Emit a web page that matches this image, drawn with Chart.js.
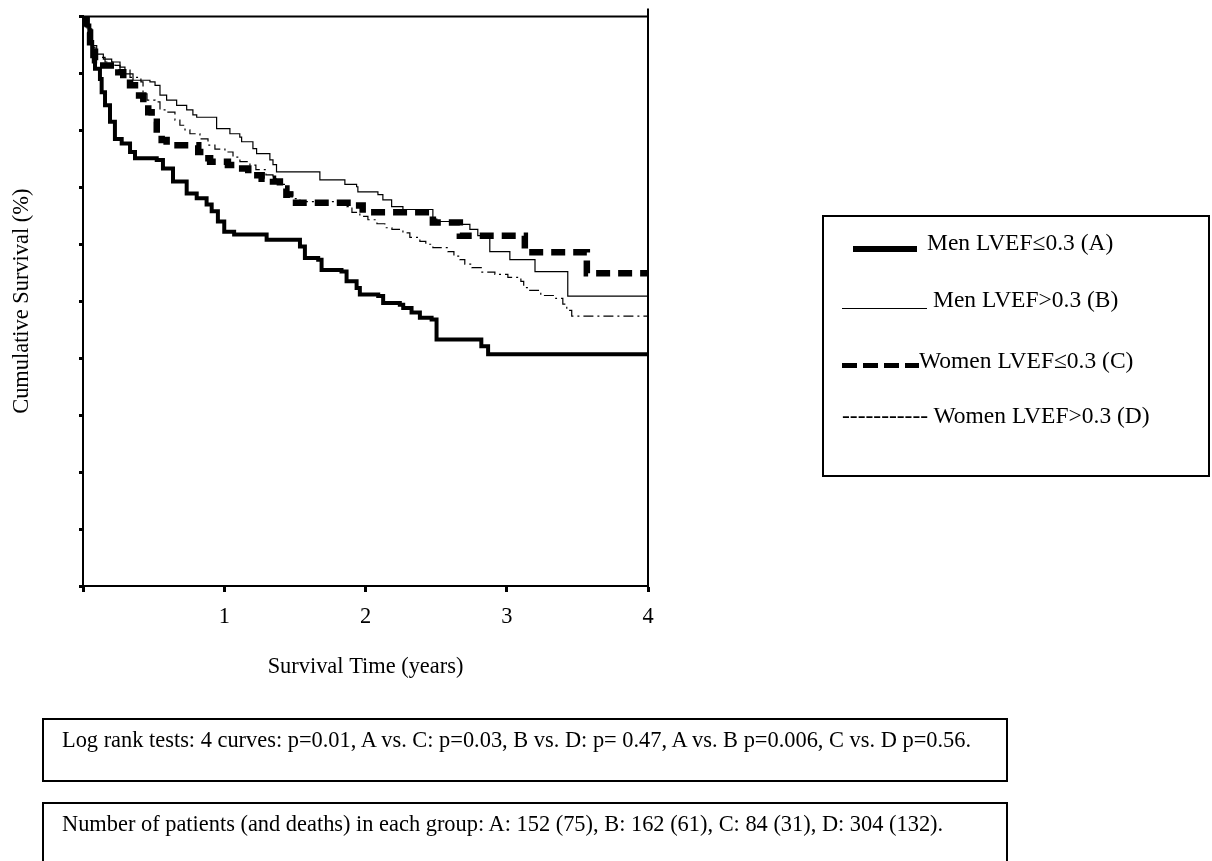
<!DOCTYPE html>
<html>
<head>
<meta charset="utf-8">
<script src="https://cdn.jsdelivr.net/npm/chart.js@4.4.0/dist/chart.umd.min.js"></script>
<style>
  html, body { margin: 0; padding: 0; background: #fff; }
  body {
    width: 1212px; height: 861px; position: relative; overflow: hidden;
    font-family: "Liberation Serif", "Times New Roman", serif; font-size: 22.4px; color: #000;
  }
  #chart { position: absolute; left: 0; top: 0; }
  .box { position: absolute; border: 2px solid #000; box-sizing: border-box; }
  .txt { position: absolute; white-space: nowrap; line-height: 26px; }
  .leg { font-size: 23.5px; }
  .swatch { position: absolute; }
</style>
</head>
<body>
<canvas id="chart" width="1212" height="861"></canvas>

<!-- legend box -->
<div class="box" style="left:822px; top:215px; width:388px; height:262px;"></div>
<div class="swatch" style="left:853px; top:246px; width:64px; height:6px; background:#000;"></div>
<div class="txt leg" style="left:927px; top:229px;">Men LVEF≤0.3 (A)</div>
<div class="swatch" style="left:842px; top:308px; width:85px; height:1px; background:#000;"></div>
<div class="txt leg" style="left:933px; top:286px;">Men LVEF&gt;0.3 (B)</div>
<div class="swatch" style="left:842px; top:363px; width:77px; height:5px;
  background:repeating-linear-gradient(to right, #000 0 15px, transparent 15px 21px);"></div>
<div class="txt leg" style="left:919px; top:347px;">Women LVEF≤0.3 (C)</div>
<div class="txt leg" style="left:842px; top:402px;">----------- Women LVEF&gt;0.3 (D)</div>

<!-- note boxes -->
<div class="box" style="left:42px; top:718px; width:966px; height:64px;"></div>
<div class="txt" style="left:62px; top:727px;">Log rank tests: 4 curves: p=0.01, A vs. C: p=0.03, B vs. D: p= 0.47, A vs. B p=0.006, C vs. D p=0.56.</div>
<div class="box" style="left:42px; top:802px; width:966px; height:80px;"></div>
<div class="txt" style="left:62px; top:811px;">Number of patients (and deaths) in each group: A: 152 (75), B: 162 (61), C: 84 (31), D: 304 (132).</div>

<script>
// survival time (years) and cumulative survival (%)

// Men LVEF<=0.3 (A)
const tA = [0, 0.012, 0.026, 0.045, 0.065, 0.085, 0.12, 0.132, 0.156, 0.191, 0.226, 0.274, 0.333, 0.368, 0.522, 0.566, 0.637, 0.734, 0.805, 0.875,
            0.911, 0.955, 1.0, 1.07, 1.30, 1.536, 1.571, 1.665, 1.689, 1.83, 1.866, 1.937, 1.96, 2.09, 2.125, 2.243, 2.267, 2.326, 2.385, 2.468,
            2.503, 2.82, 2.868, 4.0];
const sA = [100, 99.2, 98.4, 95.5, 93.0, 90.8, 89.0, 86.7, 84.4, 81.5, 78.5, 77.7, 76.2, 75.1, 74.8, 73.3, 71.0, 68.9, 68.1, 67.0,
            65.8, 64.0, 62.2, 61.7, 60.8, 59.6, 57.6, 57.3, 55.5, 55.2, 53.5, 52.3, 51.2, 50.9, 49.7, 49.4, 48.8, 48.0, 47.1, 46.8,
            43.3, 42.1, 40.7, 40.7];

// Men LVEF>0.3 (B)
const tB = [0, 0.037, 0.062, 0.097, 0.144, 0.203, 0.262, 0.297, 0.354, 0.474, 0.51, 0.545, 0.592, 0.663, 0.734, 0.778, 0.805, 0.946, 1.04, 1.11,
            1.123, 1.203, 1.229, 1.323, 1.345, 1.37, 1.677, 1.854, 1.937, 1.946, 2.088, 2.123, 2.185, 2.265, 2.477, 2.505, 2.61, 2.739, 2.795, 2.88,
            3.022, 3.2, 3.432, 4.0];
const sB = [100, 97.8, 94.9, 93.4, 92.5, 92.0, 91.1, 89.9, 88.8, 88.5, 87.9, 86.2, 85.3, 84.4, 83.6, 82.7, 82.3, 80.3, 79.4, 78.8,
            78.0, 76.8, 75.9, 74.8, 74.0, 72.7, 71.3, 70.5, 70.1, 69.2, 68.7, 67.8, 66.6, 66.1, 64.4, 64.0, 63.5, 62.6, 61.5, 58.7,
            57.3, 55.2, 50.9, 50.9];

// Women LVEF<=0.3 (C)
const tC = [0, 0.026, 0.05, 0.085, 0.12, 0.25, 0.285, 0.333, 0.368, 0.427, 0.462, 0.486, 0.522, 0.557, 0.592, 0.816, 0.863, 0.9, 1.026, 1.088,
            1.17, 1.265, 1.345, 1.394, 1.44, 1.465, 1.925, 1.98, 2.03, 2.477, 2.668, 3.128, 3.567, 4.0];
const sC = [100, 97.2, 94.6, 92.3, 91.4, 90.2, 89.0, 87.9, 86.1, 84.7, 83.2, 81.5, 79.4, 78.3, 77.4, 76.2, 75.1, 74.5, 73.9, 73.3,
            72.1, 71.5, 71.0, 69.8, 68.7, 67.3, 66.8, 66.1, 65.6, 63.8, 61.5, 58.6, 54.9, 54.9];

// Women LVEF>0.3 (D)
const tD = [0, 0.028, 0.057, 0.085, 0.156, 0.226, 0.262, 0.333, 0.41, 0.425, 0.453, 0.51, 0.545, 0.594, 0.651, 0.686, 0.722, 0.757, 0.828, 0.885,
            0.934, 1.005, 1.062, 1.111, 1.182, 1.224, 1.295, 1.345, 1.394, 1.444, 1.486, 1.536, 1.868, 1.904, 1.96, 2.017, 2.081, 2.137, 2.187, 2.265,
            2.314, 2.385, 2.427, 2.477, 2.583, 2.626, 2.668, 2.703, 2.753, 2.824, 2.916, 3.008, 3.1, 3.12, 3.163, 3.241, 3.347, 3.397, 3.425, 3.46,
            4.0];
const sD = [100, 97.2, 94.6, 92.8, 92.0, 91.4, 90.6, 89.3, 88.5, 86.4, 85.3, 85.0, 83.6, 83.2, 81.8, 80.9, 80.1, 79.4, 78.5, 77.4,
            76.7, 76.2, 75.3, 74.5, 73.9, 73.1, 72.2, 71.5, 70.5, 69.2, 68.0, 67.5, 66.6, 65.6, 64.9, 64.3, 63.6, 62.9, 62.6, 62.0,
            61.2, 60.5, 60.0, 59.4, 58.7, 57.9, 57.3, 56.5, 55.9, 55.1, 54.7, 54.2, 53.5, 52.4, 51.9, 51.0, 50.5, 49.5, 48.4, 47.4,
            47.4];

const xMin = 0, xMax = 4, xStep = 1;
const yMin = 0, yMax = 100, yStep = 10;

const FONT = { family: '"Liberation Serif", "Times New Roman", serif', size: 22.4 };

function pts(t, s) {
  return t.map((v, i) => ({ x: v, y: s[i] }));
}

// top edge and right edge of the plot frame
const framePlugin = {
  id: 'frame',
  afterDraw(chart) {
    const { ctx, chartArea: a } = chart;
    ctx.save();
    ctx.strokeStyle = '#000';
    ctx.lineWidth = 2;
    ctx.beginPath();
    ctx.moveTo(a.left, a.top);
    ctx.lineTo(a.right, a.top);
    ctx.moveTo(a.right, a.top - 8);
    ctx.lineTo(a.right, a.bottom);
    ctx.stroke();
    ctx.restore();
  }
};

const line = (label, t, s, width, dash) => ({
  label,
  data: pts(t, s),
  borderColor: '#000',
  borderWidth: width,
  borderDash: dash || [],
  borderCapStyle: 'butt',
  stepped: true,
  pointRadius: 0,
  fill: false
});

new Chart(document.getElementById('chart').getContext('2d'), {
  type: 'line',
  data: {
    datasets: [
      line('Men LVEF≤0.3 (A)', tA, sA, 4),
      line('Men LVEF>0.3 (B)', tB, sB, 1.2),
      line('Women LVEF≤0.3 (C)', tC, sC, 6.5, [14, 8]),
      line('Women LVEF>0.3 (D)', tD, sD, 1.2, [10, 4, 2, 4])
    ]
  },
  options: {
    responsive: false,
    animation: false,
    devicePixelRatio: 1,
    layout: { padding: { left: 0, top: 15, right: 564, bottom: 175 } },
    plugins: { legend: { display: false }, tooltip: { enabled: false } },
    scales: {
      x: {
        type: 'linear', min: xMin, max: xMax,
        ticks: { stepSize: xStep, color: '#000', font: FONT, padding: 12, maxRotation: 0,
                 callback: v => (v === 0 ? '' : v) },
        grid: { drawOnChartArea: false, drawTicks: true, tickLength: 6, tickWidth: 3, tickColor: '#000' },
        border: { color: '#000', width: 2 },
        title: { display: true, text: 'Survival Time (years)', color: '#000', font: FONT, padding: { top: 0, bottom: 5 } },
        afterFit(scale) { scale.height = 100; }
      },
      y: {
        min: yMin, max: yMax,
        ticks: { stepSize: yStep, color: '#000', font: FONT, callback: () => '' },
        grid: { drawOnChartArea: false, drawTicks: true, tickLength: 4, tickWidth: 3, tickColor: '#000' },
        border: { color: '#000', width: 2 },
        title: { display: true, text: 'Cumulative Survival (%)', color: '#000', font: FONT, padding: { top: 9, bottom: 0 } },
        afterFit(scale) { scale.width = 83; }
      }
    }
  },
  plugins: [framePlugin]
});
</script>
</body>
</html>
